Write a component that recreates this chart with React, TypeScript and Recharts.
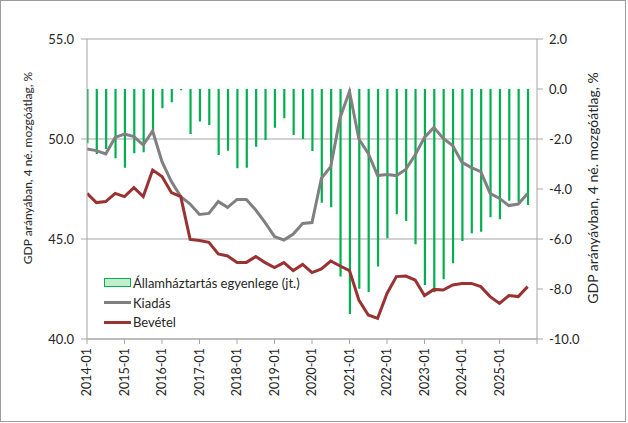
import React from 'react';
import { ComposedChart, Bar, Line, XAxis, YAxis, CartesianGrid, Legend } from 'recharts';

// 2014Q1 .. 2025Q4 (48 quarters); x = quarter index
const quarterIdx: number[] = [
  0, 1, 2, 3, 4, 5, 6, 7, 8, 9, 10, 11, 12, 13, 14, 15, 16, 17, 18, 19, 20, 21, 22, 23,
  24, 25, 26, 27, 28, 29, 30, 31, 32, 33, 34, 35, 36, 37, 38, 39, 40, 41, 42, 43, 44, 45, 46, 47,
];

const tickLabels: string[] = [
  '2014-01', '2015-01', '2016-01', '2017-01', '2018-01', '2019-01',
  '2020-01', '2021-01', '2022-01', '2023-01', '2024-01', '2025-01', '',
];
const tickPositions: number[] = [0, 4, 8, 12, 16, 20, 24, 28, 32, 36, 40, 44, 48];

// Államháztartás egyenlege (right axis)
const balance: number[] = [
  -2.17, -2.6, -2.4, -2.77, -3.15, -2.57, -2.53, -1.73, -0.77, -0.53,
  -0.05, -1.8, -1.3, -1.44, -2.64, -2.47, -3.17, -3.15, -2.31, -2.04,
  -1.55, -1.17, -1.84, -2.0, -2.48, -4.55, -4.73, -7.5, -9.0, -7.99,
  -8.12, -7.1, -5.97, -5.01, -5.28, -6.21, -7.84, -8.13, -7.61, -6.97,
  -6.08, -5.77, -5.71, -5.13, -5.21, -4.47, -4.51, -4.64,
];

// Kiadás (left axis)
const kiadas: number[] = [
  49.5, 49.42, 49.25, 50.08, 50.25, 50.12, 49.7, 50.4, 48.87, 47.87,
  47.12, 46.75, 46.23, 46.28, 46.87, 46.58, 46.98, 46.98, 46.45, 45.82,
  45.12, 44.95, 45.25, 45.78, 45.82, 48.03, 48.62, 51.08, 52.37, 50.0,
  49.28, 48.17, 48.23, 48.17, 48.48, 49.2, 50.08, 50.58, 50.03, 49.67,
  48.83, 48.57, 48.37, 47.28, 47.03, 46.67, 46.75, 47.28,
];

// Bevétel (left axis)
const bevetel: number[] = [
  47.28, 46.82, 46.87, 47.28, 47.12, 47.57, 47.12, 48.45, 48.12, 47.32,
  47.12, 44.98, 44.92, 44.83, 44.25, 44.15, 43.83, 43.83, 44.12, 43.82,
  43.57, 43.82, 43.42, 43.73, 43.32, 43.5, 43.9, 43.65, 43.42, 41.95,
  41.2, 41.03, 42.28, 43.12, 43.15, 42.95, 42.17, 42.48, 42.45, 42.7,
  42.78, 42.78, 42.62, 42.12, 41.78, 42.17, 42.12, 42.62,
];

const leftTicks: number[] = [40, 45, 50, 55];
const rightTicks: number[] = [-10, -8, -6, -4, -2, 0, 2];

const data = quarterIdx.map((i) => ({
  i,
  balance: balance[i],
  kiadas: kiadas[i],
  bevetel: bevetel[i],
}));

const FONT = 'Lato, "Open Sans", sans-serif';
const AXIS = '#a6a6a6';
const TXT = '#262626';
const GREEN = '#00b050';
const GREY = '#808080';
const RED = '#993333';
const BAR_W = 2.2;

const XTick = (props: any) => {
  const { x, y, payload } = props;
  const idx = tickPositions.indexOf(payload.value);
  const label = idx >= 0 ? tickLabels[idx] : '';
  return (
    <text
      x={x}
      y={y}
      transform={`rotate(-90, ${x}, ${y})`}
      textAnchor="end"
      dy="0.35em"
      fontSize={12.5}
      fontFamily={FONT}
      fill={TXT}
    >
      {label}
    </text>
  );
};

const ThinBar = (props: any) => {
  const { x, y, width, height, fill } = props;
  if (height == null || width == null) return null;
  const cx = x + width / 2 + 0.6;
  const top = height < 0 ? y + height : y;
  return <rect x={cx - BAR_W / 2} y={top} width={BAR_W} height={Math.abs(height)} fill={fill} />;
};

const LeftTitle = (props: any) => {
  const vb = props.viewBox;
  const cx = vb.x + 28;
  const cy = vb.y + vb.height / 2 - 21;
  return (
    <text
      x={cx}
      y={cy}
      transform={`rotate(-90, ${cx}, ${cy})`}
      textAnchor="middle"
      dy="0.35em"
      fontSize={12}
      fontFamily={FONT}
      fill={TXT}
    >
      GDP arányában, 4 né. mozgóátlag, %
    </text>
  );
};

const RightTitle = (props: any) => {
  const vb = props.viewBox;
  const cx = vb.x + 56;
  const cy = vb.y + vb.height / 2 - 1;
  return (
    <text
      x={cx}
      y={cy}
      transform={`rotate(-90, ${cx}, ${cy})`}
      textAnchor="middle"
      dy="0.35em"
      fontSize={14}
      fontFamily={FONT}
      fill={TXT}
    >
      GDP arányávban, 4 né. mozgóátlag, %
    </text>
  );
};

const legendItems = [
  { name: 'Államháztartás egyenlege (jt.)', kind: 'box', color: GREEN },
  { name: 'Kiadás', kind: 'line', color: GREY },
  { name: 'Bevétel', kind: 'line', color: RED },
];

const LegendContent = () => (
  <div style={{ fontFamily: FONT, fontSize: 13, color: TXT }}>
    {legendItems.map((it) => (
      <div key={it.name} style={{ display: 'flex', alignItems: 'center', height: 19.7 }}>
        {it.kind === 'box' ? (
          <div
            style={{
              width: 25,
              height: 7,
              background: '#c3eecd',
              border: `1.5px solid ${GREEN}`,
              marginRight: 2,
            }}
          />
        ) : (
          <div style={{ width: 27, height: 3, background: it.color, marginRight: 2 }} />
        )}
        <span style={{ whiteSpace: 'nowrap' }}>{it.name}</span>
      </div>
    ))}
  </div>
);

export default function App() {
  return (
    <div style={{ position: 'absolute', left: 0, top: 0, width: 628, height: 423, background: '#fff' }}>
      <div
        style={{
          position: 'absolute',
          left: 0,
          top: 0,
          width: 626,
          height: 422,
          boxSizing: 'border-box',
          border: '1px solid #9c9c9c',
        }}
      />
      <div style={{ position: 'absolute', left: 0, top: 0 }}>
        <ComposedChart
          width={628}
          height={423}
          data={data}
          margin={{ top: 39, right: 0, bottom: 0, left: 0 }}
        >
          <CartesianGrid
            yAxisId="left"
            vertical={false}
            stroke={AXIS}
            strokeWidth={1.2}
          />
          <XAxis
            dataKey="i"
            type="number"
            domain={[0, 48]}
            ticks={tickPositions}
            interval={0}
            height={84}
            stroke={AXIS}
            tickSize={5}
            tickMargin={4}
            tick={<XTick />}
            allowDataOverflow
          />
          <YAxis
            yAxisId="left"
            domain={[40, 55]}
            ticks={leftTicks}
            width={87}
            stroke={AXIS}
            tickSize={6}
            tickMargin={7}
            tick={{ fontSize: 13, fontFamily: FONT, fill: TXT }}
            tickFormatter={(v: number) => v.toFixed(1)}
            label={<LeftTitle />}
          />
          <YAxis
            yAxisId="right"
            orientation="right"
            domain={[-10, 2]}
            ticks={rightTicks}
            width={91}
            stroke={AXIS}
            tickSize={6}
            tickMargin={6}
            tick={{ fontSize: 13, fontFamily: FONT, fill: TXT }}
            tickFormatter={(v: number) => v.toFixed(1)}
            label={<RightTitle />}
          />
          <Bar
            yAxisId="right"
            dataKey="balance"
            fill={GREEN}
            barSize={3}
            shape={<ThinBar />}
            isAnimationActive={false}
          />
          <Line
            yAxisId="left"
            dataKey="kiadas"
            stroke={GREY}
            strokeWidth={3}
            dot={false}
            isAnimationActive={false}
          />
          <Line
            yAxisId="left"
            dataKey="bevetel"
            stroke={RED}
            strokeWidth={3}
            dot={false}
            isAnimationActive={false}
          />
          <Legend
            layout="vertical"
            align="center"
            verticalAlign="middle"
            content={<LegendContent />}
            wrapperStyle={{ left: 104, top: 273, width: 'auto', height: 'auto' }}
          />
        </ComposedChart>
      </div>
    </div>
  );
}
